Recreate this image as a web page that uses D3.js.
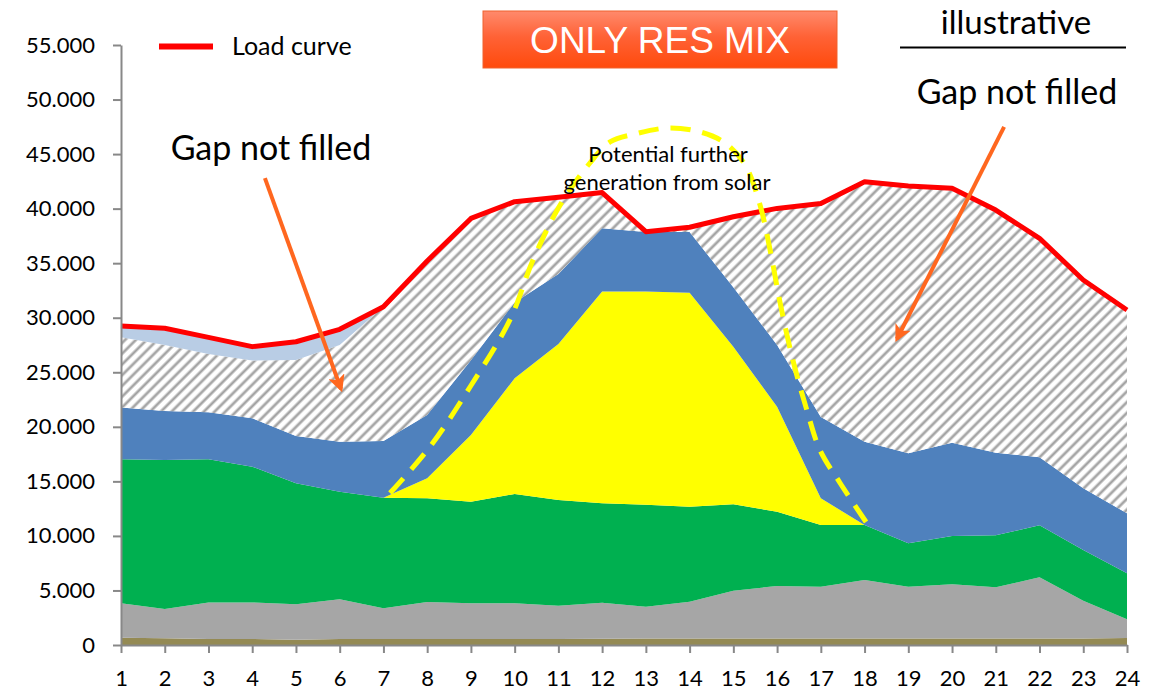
<!DOCTYPE html>
<html><head><meta charset="utf-8">
<script src="https://cdn.jsdelivr.net/npm/d3@7"></script>
<style>
body{margin:0;background:#fff}
svg{display:block}
text{font-family:Lato,'Open Sans',sans-serif;fill:#000}
</style>
</head><body>
<svg id="chart" width="1158" height="692"></svg>
<script>
// ---------- DATA ----------
const hours = [1,2,3,4,5,6,7,8,9,10,11,12,13,14,15,16,17,18,19,20,21,22,23,24];
const yTickValues = [0,5000,10000,15000,20000,25000,30000,35000,40000,45000,50000,55000];

// stacked layers (MW per hour), bottom to top
const oliveBase  = [670,620,560,560,470,540,540,540,540,540,540,580,600,600,600,600,600,600,600,600,600,600,600,650];
const grayLayer  = [3150,2680,3340,3340,3260,3650,2820,3400,3280,3280,3060,3300,2910,3370,4380,4810,4750,5360,4750,4960,4690,5600,3450,1700];
const greenLayer = [13200,13660,13120,12450,11090,9860,10140,9510,9320,10020,9690,9110,9340,8710,7920,6810,5650,5040,3970,4440,4760,4770,4650,4220];
const solarLayer = [0,0,0,0,0,0,0,1830,6110,10610,14310,19410,19550,19620,14450,9630,2450,0,0,0,0,0,0,0];
const blueLayer  = [4740,4490,4310,4430,4340,4590,5200,5800,6850,6950,6400,5800,5450,5550,5450,5650,7450,7640,8250,8550,7580,6230,5660,5500];
const lightBlueLayer = [1040,1530,1520,1280,1670,1440,0,0,0,0,0,0,0,0,0,0,0,0,0,0,0,0,0,0];
const loadCurve  = [29240,29030,28200,27350,27800,28940,31000,35200,39100,40640,41040,41470,37890,38290,39260,40020,40480,42470,42080,41860,39870,37280,33460,30710];

// potential further solar (dashed annotation), hour / value pairs
const potSolarHours  = [7.15,8.06,8.98,9.89,10.42,11.04,11.72,12.18,12.75,13.5,14.24,14.81,15.27,15.61,15.84,16.07,16.36,16.68,16.98,17.44,18.05];
const potSolarValues = [13930,18150,23650,29790,35290,40330,44180,46110,46840,47390,47030,46020,44000,40330,36210,31350,26130,21540,17880,14850,11180];

// arrows (hour, value) start -> end
const arrowLeft  = [[4.29,42800],[6.03,23470]];
const arrowRight = [[21.19,47500],[18.74,28050]];

// ---------- CHART ----------
const svg = d3.select("#chart");
const x = d3.scaleLinear().domain([1,24]).range([121,1127]);
const y = d3.scaleLinear().domain([0,55000]).range([645,45]);

const defs = svg.append("defs");
const P = 7.6;
const pat = defs.append("pattern").attr("id","hatch")
  .attr("patternUnits","userSpaceOnUse").attr("width",P).attr("height",P)
  .attr("patternTransform","rotate(45)");
pat.append("rect").attr("width",P).attr("height",P).attr("fill","#fff");
pat.append("line").attr("x1",2).attr("x2",2).attr("y1",0).attr("y2",P)
  .attr("stroke","#d4d4d4").attr("stroke-width",3.6);
pat.append("line").attr("x1",2).attr("x2",2).attr("y1",0).attr("y2",P)
  .attr("stroke","#a2a2a2").attr("stroke-width",1.8);

const grad = defs.append("linearGradient").attr("id","titleGrad")
  .attr("x1",0).attr("y1",0).attr("x2",0).attr("y2",1);
grad.append("stop").attr("offset","0%").attr("stop-color","#ff8a6c");
grad.append("stop").attr("offset","45%").attr("stop-color","#ff6236");
grad.append("stop").attr("offset","100%").attr("stop-color","#ff4a0c");

defs.append("marker").attr("id","arrowHead")
  .attr("viewBox","0 0 10 10").attr("refX",8).attr("refY",5)
  .attr("markerUnits","userSpaceOnUse").attr("markerWidth",17).attr("markerHeight",17)
  .attr("orient","auto")
  .append("path").attr("d","M0,0 L10,5 L0,10 L2.5,5 Z").attr("fill","#ff671f");

const rows = hours.map((h,i)=>{
  const top = oliveBase[i]+grayLayer[i]+greenLayer[i]+solarLayer[i]+blueLayer[i];
  return {hour:h, olive:oliveBase[i], gray:grayLayer[i], green:greenLayer[i],
    solar:solarLayer[i], blue:blueLayer[i],
    gap:Math.max(0, loadCurve[i]-lightBlueLayer[i]-top),
    lightblue:lightBlueLayer[i]};
});
const keys = ["olive","gray","green","solar","blue","gap","lightblue"];
const fills = {olive:"#948a54", gray:"#a6a6a6", green:"#00b050", solar:"#ffff00",
  blue:"#4f81bd", gap:"url(#hatch)", lightblue:"#b9cde5"};
const series = d3.stack().keys(keys)(rows);
const area = d3.area().x(d=>x(d.data.hour)).y0(d=>y(d[0])).y1(d=>y(d[1]));
svg.append("g").selectAll("path").data(series).join("path")
  .attr("d",area).attr("fill",d=>fills[d.key]);

// load curve
svg.append("path").datum(loadCurve)
  .attr("d", d3.line().x((d,i)=>x(hours[i])).y(d=>y(d)))
  .attr("fill","none").attr("stroke","#ff0000").attr("stroke-width",5)
  .attr("stroke-linejoin","round");

// axes
const loc = d3.formatLocale({decimal:",",thousands:".",grouping:[3],currency:["","€"]});
const fmt = loc.format(",");
const yAxis = svg.append("g").attr("transform","translate(121,0)")
  .call(d3.axisLeft(y).tickValues(yTickValues).tickFormat(fmt).tickSize(8).tickSizeOuter(0).tickPadding(18));
const xAxis = svg.append("g").attr("transform","translate(0,645)")
  .call(d3.axisBottom(x).tickValues(hours).tickFormat(d3.format("d")).tickSize(8).tickSizeOuter(0).tickPadding(17));
[yAxis,xAxis].forEach(a=>{
  a.selectAll("path,line").attr("stroke","#888").attr("stroke-width",2);
  a.selectAll("text").attr("font-size",22).attr("fill","#111").style("font-family","Lato,'Open Sans',sans-serif");
});

// dashed potential solar curve
svg.append("path").datum(potSolarHours.map((h,i)=>[h,potSolarValues[i]]))
  .attr("d", d3.line().x(d=>x(d[0])).y(d=>y(d[1])).curve(d3.curveCatmullRom))
  .attr("fill","none").attr("stroke","#ffff00").attr("stroke-width",5)
  .attr("stroke-dasharray","20,12");

// arrows
[arrowLeft,arrowRight].forEach(a=>{
  svg.append("line").attr("x1",x(a[0][0])).attr("y1",y(a[0][1]))
    .attr("x2",x(a[1][0])).attr("y2",y(a[1][1]))
    .attr("stroke","#ff671f").attr("stroke-width",4).attr("marker-end","url(#arrowHead)");
});

// legend
svg.append("line").attr("x1",159).attr("x2",213).attr("y1",46.5).attr("y2",46.5)
  .attr("stroke","#ff0000").attr("stroke-width",6);
svg.append("text").attr("x",232).attr("y",55).attr("font-size",25).text("Load curve");

// title box
svg.append("rect").attr("x",483).attr("y",11).attr("width",354).attr("height",57)
  .attr("fill","url(#titleGrad)").attr("stroke","#f0622e").attr("stroke-width",1);
svg.append("text").attr("x",660).attr("y",53).attr("text-anchor","middle")
  .attr("font-size",37).style("font-family","'Liberation Sans',Arial,sans-serif")
  .style("fill","#fff").text("ONLY RES MIX");

// illustrative
svg.append("text").attr("x",1016).attr("y",34).attr("text-anchor","middle")
  .attr("font-size",33).text("illustrative");
svg.append("line").attr("x1",900).attr("x2",1126).attr("y1",47.5).attr("y2",47.5)
  .attr("stroke","#000").attr("stroke-width",2);

// annotations
svg.append("text").attr("x",271).attr("y",160).attr("text-anchor","middle")
  .attr("font-size",34).text("Gap not filled");
svg.append("text").attr("x",1017).attr("y",104).attr("text-anchor","middle")
  .attr("font-size",34).text("Gap not filled");
svg.append("text").attr("x",668).attr("y",162).attr("text-anchor","middle")
  .attr("font-size",22).text("Potential further");
svg.append("text").attr("x",667).attr("y",190).attr("text-anchor","middle")
  .attr("font-size",22).text("generation from solar");
</script>
</body></html>
